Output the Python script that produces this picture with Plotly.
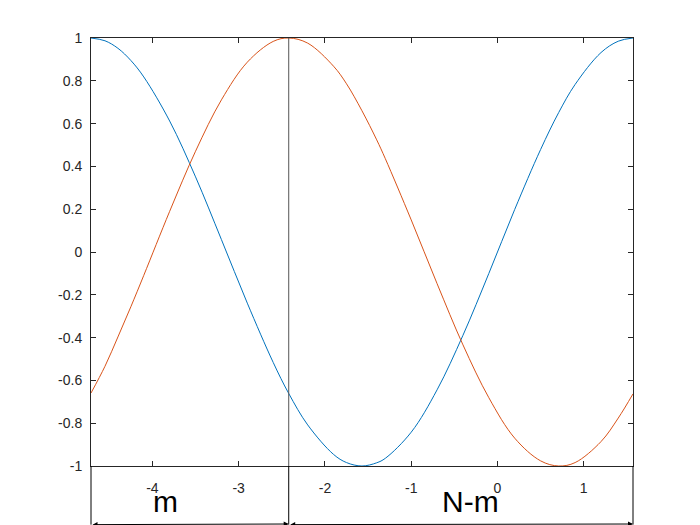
import plotly.graph_objects as go

# Sample points
x_vals = [-4.712, -4.55, -4.4, -4.25, -4.1, -3.8, -3.5, -3.2, -2.9, -2.6, -2.42, -2.2, -1.9,
          -1.75, -1.571, -1.4, -1.3, -1.0, -0.7, -0.4, -0.1, 0.2, 0.5, 0.71, 0.9, 1.2, 1.4, 1.571]
blue_vals = [1.0, 0.987, 0.952, 0.895, 0.818, 0.612, 0.351, 0.058, -0.239, -0.516, -0.661, -0.808,
             -0.946, -0.984, -1.0, -0.985, -0.964, -0.842, -0.644, -0.389, -0.100, 0.199, 0.479,
             0.652, 0.783, 0.932, 0.985, 1.0]
orange_vals = [-0.659, -0.534, -0.397, -0.256, -0.109, 0.190, 0.471, 0.711, 0.887, 0.984, 1.0,
               0.976, 0.868, 0.786, 0.660, 0.524, 0.436, 0.150, -0.148, -0.434, -0.681, -0.870,
               -0.976, -1.0, -0.984, -0.886, -0.776, -0.663]

x_range = [-4.712, 1.571]
y_range = [-1, 1]
split_x = -2.42

x_tickvals = [-4, -3, -2, -1, 0, 1]
x_ticktext = ["-4", "-3", "-2", "-1", "0", "1"]
y_tickvals = [1, 0.8, 0.6, 0.4, 0.2, 0, -0.2, -0.4, -0.6, -0.8, -1]
y_ticktext = ["1", "0.8", "0.6", "0.4", "0.2", "0", "-0.2", "-0.4", "-0.6", "-0.8", "-1"]

seg_labels = ["m", "N-m"]
seg_label_x = [-3.85, -0.31]

BLUE = "#0072BD"
ORANGE = "#D95319"
AX = "#262626"
FONT = "Liberation Sans, Arial, Helvetica, sans-serif"

fig = go.Figure()
fig.add_trace(go.Scatter(x=x_vals, y=blue_vals, mode="lines",
                         line=dict(color=BLUE, width=1, shape="spline"), showlegend=False))
fig.add_trace(go.Scatter(x=x_vals, y=orange_vals, mode="lines",
                         line=dict(color=ORANGE, width=1, shape="spline"), showlegend=False))

bottom = -0.137  # paper y of the arrows below the axis

shapes = [
    dict(type="line", xref="x", yref="y", x0=split_x, x1=split_x, y0=y_range[0], y1=y_range[1],
         line=dict(color="#555555", width=1)),
    dict(type="line", xref="x", yref="paper", x0=split_x, x1=split_x, y0=bottom, y1=0,
         line=dict(color="black", width=1)),
    dict(type="line", xref="paper", yref="paper", x0=0, x1=0, y0=bottom, y1=0,
         line=dict(color="black", width=1)),
    dict(type="line", xref="paper", yref="paper", x0=1, x1=1, y0=bottom, y1=0,
         line=dict(color="black", width=1)),
]

annotations = []
for (xa, xb) in [(x_range[0], split_x), (split_x, x_range[1])]:
    annotations.append(dict(x=xb, y=bottom, xref="x", yref="paper",
                            ax=xa, ay=0, axref="x", ayref="pixel",
                            showarrow=True, arrowhead=2, startarrowhead=2,
                            arrowside="end+start", arrowsize=1, arrowwidth=1,
                            arrowcolor="black", text=""))

for lab, lx in zip(seg_labels, seg_label_x):
    annotations.append(dict(x=lx, y=-0.083, xref="x", yref="paper", text=lab,
                            showarrow=False, font=dict(family=FONT, size=30, color="black"),
                            xanchor="center", yanchor="middle"))

fig.update_layout(
    width=700, height=525,
    margin=dict(l=91, r=67, t=38, b=59),
    paper_bgcolor="white", plot_bgcolor="white",
    font=dict(family=FONT, size=14, color=AX),
    shapes=shapes, annotations=annotations,
)
fig.update_xaxes(range=x_range, tickvals=x_tickvals, ticktext=x_ticktext,
                 ticks="inside", ticklen=5, tickcolor=AX, tickwidth=1,
                 showline=True, linecolor=AX, linewidth=1, mirror="ticks",
                 showgrid=False, zeroline=False, ticklabelstandoff=9,
                 tickfont=dict(family=FONT, size=14, color=AX))
fig.update_yaxes(range=y_range, tickvals=y_tickvals, ticktext=y_ticktext,
                 ticks="inside", ticklen=5, tickcolor=AX, tickwidth=1,
                 showline=True, linecolor=AX, linewidth=1, mirror="ticks",
                 showgrid=False, zeroline=False, ticklabelstandoff=5,
                 tickfont=dict(family=FONT, size=14, color=AX))

fig.write_html("out.html", config={"displayModeBar": False},
               post_script="document.body.style.margin='0';")
